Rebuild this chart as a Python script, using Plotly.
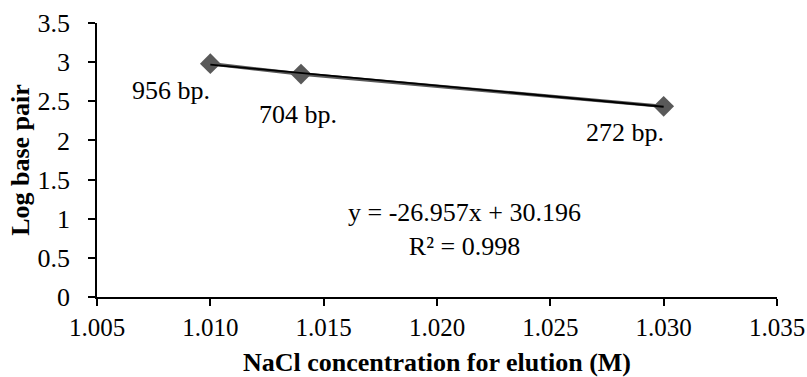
import plotly.graph_objects as go

nacl_conc = [1.010, 1.014, 1.030]
log_bp = [2.980, 2.848, 2.435]
bp_labels = ["956 bp.", "704 bp.", "272 bp."]
label_anchor = ["right", "center", "right"]
label_shift = [-27, -40, -26]
x_ticks = [1.005, 1.010, 1.015, 1.020, 1.025, 1.030, 1.035]
y_ticks = [0, 0.5, 1, 1.5, 2, 2.5, 3, 3.5]

# trendline coefficients as printed on the chart
trend_slope = -26.957
trend_intercept = 30.196
trend_r2 = 0.998

xfit = [min(nacl_conc), max(nacl_conc)]
yfit = [trend_slope * v + trend_intercept for v in xfit]

font = "Liberation Serif, Times New Roman, serif"
FS = 26

fig = go.Figure()
fig.add_trace(go.Scatter(
    x=nacl_conc, y=log_bp, mode="lines+markers",
    line=dict(color="#595959", width=3.5),
    marker=dict(symbol="diamond", size=16, color="#595959"),
    showlegend=False, hoverinfo="skip"))
fig.add_trace(go.Scatter(
    x=xfit, y=yfit, mode="lines",
    line=dict(color="black", width=1.8),
    showlegend=False, hoverinfo="skip"))

for x, y, t, a, s in zip(nacl_conc, log_bp, bp_labels, label_anchor, label_shift):
    fig.add_annotation(x=x, y=y, text=t, showarrow=False, xanchor=a,
                       yanchor="middle", yshift=s, xshift=2 if a == "right" else -3,
                       font=dict(family=font, size=FS, color="black"))

fig.add_annotation(x=0.541, xref="paper", y=0.865, yref="y",
                   text=f"y = {trend_slope:.3f}x + {trend_intercept:.3f}<br>R² = {trend_r2}",
                   showarrow=False, align="center", xanchor="center", yanchor="middle",
                   font=dict(family=font, size=FS, color="black"))

fig.update_layout(
    width=807, height=377,
    margin=dict(l=97, r=30, t=23, b=80),
    paper_bgcolor="white", plot_bgcolor="white",
    font=dict(family=font, size=FS, color="black"),
    xaxis=dict(range=[1.005, 1.035], tickvals=x_ticks, tickformat=".3f",
               showgrid=False, zeroline=False, showline=True, linecolor="black",
               linewidth=1.5, ticks="outside", ticklen=7, tickcolor="black",
               tickwidth=1.5, automargin=False, ticklabelstandoff=0,
               tickfont=dict(family=font, size=FS - 1),
               title=dict(text="<b>NaCl concentration for elution (M)</b>",
                          font=dict(family=font, size=FS), standoff=19)),
    yaxis=dict(range=[0, 3.5], tickvals=y_ticks,
               showgrid=False, zeroline=False, showline=True, linecolor="black",
               linewidth=1.5, ticks="outside", ticklen=7, tickcolor="black",
               tickwidth=1.5, automargin=False, ticklabelstandoff=13,
               tickfont=dict(family=font, size=FS),
               title=dict(text="<b>Log base pair</b>",
                          font=dict(family=font, size=FS), standoff=0)),
)

fig.write_html(
    "out.html",
    config={"displayModeBar": False},
    post_script="document.body.style.margin='0';document.body.style.overflow='hidden';",
)
